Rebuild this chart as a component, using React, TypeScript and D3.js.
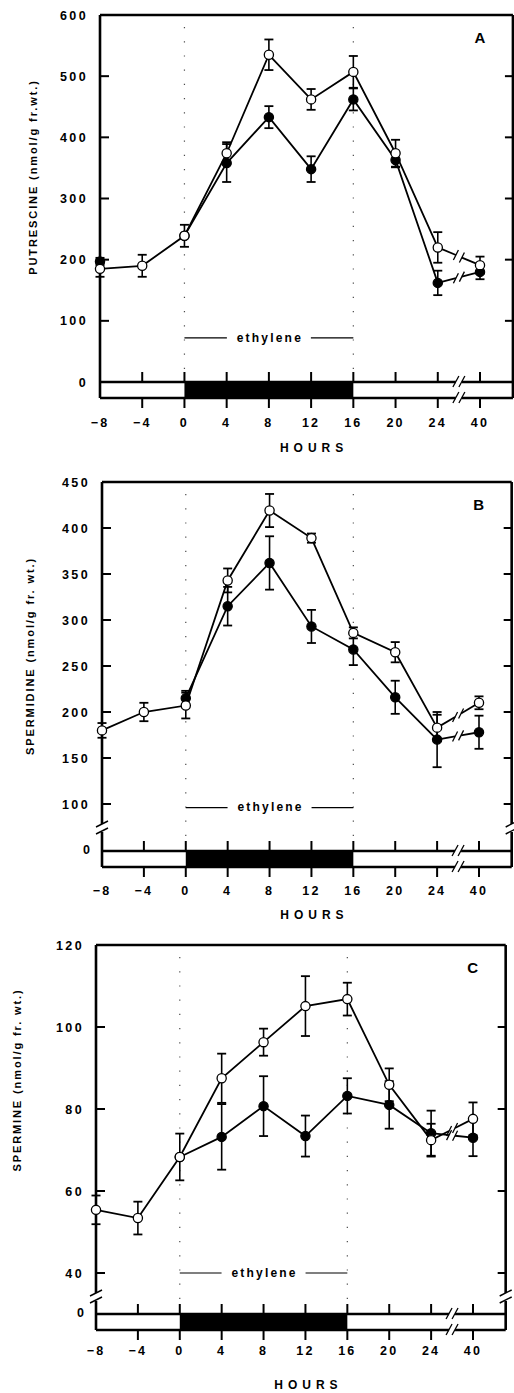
import React from 'react';
import * as d3 from 'd3';

// hours on the x axis (evenly spaced, with a break between 24 and 40)
const HOURS = [-8, -4, 0, 4, 8, 12, 16, 20, 24, 40];
const HOUR_LABELS = ['−8', '−4', '0', '4', '8', '12', '16', '20', '24', '40'];

// A: putrescine
const putOpen = [185, 190, 239, 374, 535, 462, 507, 374, 220, 191];
const putOpenErr = [13, 18, 18, 18, 25, 17, 26, 22, 25, 14];
const putFilled = [197, null, 239, 358, 433, 348, 462, 363, 162, 180];
const putFilledErr = [6, 0, 0, 31, 18, 21, 18, 12, 20, 12];
const putTicks = [0, 100, 200, 300, 400, 500, 600];

// B: spermidine
const spdOpen = [180, 200, 207, 343, 419, 389, 286, 265, 183, 210];
const spdOpenErr = [8, 10, 14, 13, 18, 5, 6, 11, 14, 7];
const spdFilled = [null, null, 215, 315, 362, 293, 268, 216, 170, 178];
const spdFilledErr = [0, 0, 8, 21, 29, 18, 17, 18, 30, 18];
const spdTicks = [100, 150, 200, 250, 300, 350, 400, 450];

// C: spermine
const spmOpen = [55.4, 53.4, 68.3, 87.5, 96.3, 105.1, 106.8, 85.9, 72.4, 77.6];
const spmOpenErr = [3.5, 4, 5.7, 6, 3.3, 7.3, 4, 4, 4, 4];
const spmFilled = [null, null, 68.3, 73.2, 80.7, 73.4, 83.2, 81, 74.1, 73];
const spmFilledErr = [0, 0, 0, 8, 7.3, 5, 4.3, 5.8, 5.5, 4.5];
const spmTicks = [40, 60, 80, 100, 120];

const FONT = '"Liberation Sans", Arial, sans-serif';

type Series = { values: (number | null)[]; errs: number[]; filled: boolean };

type PanelProps = {
  letter: string;
  yLabel: string;
  left: number;
  lastX: number;
  top: number;
  yDomain: [number, number];
  yRange: [number, number];
  zeroY: number;
  yTicks: number[];
  axisBreakY?: number;
  labelX: number;
  labelY: number;
  ethyleneY: number;
  tickLabelY: number;
  hoursY: number;
  series: Series[];
};

function Panel(p: PanelProps) {
  const x = d3.scalePoint<number>().domain(HOURS).range([p.left, p.lastX]);
  const right = p.lastX + 0.78 * x.step();
  const y = d3.scaleLinear().domain(p.yDomain).range(p.yRange);
  const barH = 16;
  const barBottom = p.zeroY + barH;
  const bx = (x(24)! + x(40)!) / 2;

  // vertical axis line with optional break
  const vAxis = (xx: number) => {
    if (p.axisBreakY == null) {
      return <line x1={xx} x2={xx} y1={p.top} y2={barBottom} stroke="#000" strokeWidth={2.6} />;
    }
    const b = p.axisBreakY;
    return (
      <g>
        <line x1={xx} x2={xx} y1={p.top} y2={b - 4} stroke="#000" strokeWidth={2.6} />
        <line x1={xx} x2={xx} y1={b + 4} y2={barBottom} stroke="#000" strokeWidth={2.6} />
        <line x1={xx - 6} x2={xx + 6} y1={b - 1} y2={b - 7} stroke="#000" strokeWidth={1.4} />
        <line x1={xx - 6} x2={xx + 6} y1={b + 6} y2={b} stroke="#000" strokeWidth={1.4} />
      </g>
    );
  };

  const line = d3
    .line<number | null>()
    .defined((d) => d != null)
    .x((_, i) => x(HOURS[i])!)
    .y((d) => y(d as number));

  const ethL = x(0)!;
  const ethR = x(16)!;
  const ethMid = (ethL + ethR) / 2;
  const ey = y(p.ethyleneY);

  return (
    <g fontFamily={FONT} fontWeight="bold">
      {/* dotted guides at 0 h and 16 h */}
      {[0, 16].map((h) => (
        <line key={h} x1={x(h)} x2={x(h)} y1={p.top + 12} y2={p.zeroY - 2}
          stroke="#000" strokeWidth={1.2} strokeDasharray="1.2 13" opacity={0.7} />
      ))}

      {/* frame */}
      <line x1={p.left} x2={right} y1={p.top} y2={p.top} stroke="#000" strokeWidth={2.6} />
      {vAxis(p.left)}
      {vAxis(right)}

      {/* y ticks & labels */}
      {p.yTicks.map((t) => (
        <g key={t}>
          {y(t) > p.top + 2 && (
            <>
              <line x1={p.left} x2={p.left + 9} y1={y(t)} y2={y(t)} stroke="#000" strokeWidth={2} />
              <line x1={right - 8} x2={right} y1={y(t)} y2={y(t)} stroke="#000" strokeWidth={2} />
            </>
          )}
          <text x={p.left - 12} y={y(t)} dy="0.36em" textAnchor="end" fontSize={12.5} letterSpacing={2.4}>
            {t}
          </text>
        </g>
      ))}
      {p.axisBreakY != null && (
        <text x={p.left - 12} y={p.zeroY - 2} dy="0.36em" textAnchor="end" fontSize={12.5}>0</text>
      )}

      {/* treatment bar */}
      <rect x={ethL} y={p.zeroY} width={ethR - ethL} height={barH} fill="#000" />
      <path
        d={`M${p.left},${p.zeroY}H${bx - 3}M${bx + 3},${p.zeroY}H${right}M${p.left},${barBottom}H${bx - 3}M${bx + 3},${barBottom}H${right}`}
        stroke="#000" strokeWidth={2.4} fill="none" />
      {[-3, 3].map((o) => (
        <g key={o}>
          <line x1={bx + o - 3} x2={bx + o + 3} y1={p.zeroY + 5} y2={p.zeroY - 6} stroke="#000" strokeWidth={1.3} />
          <line x1={bx + o - 3} x2={bx + o + 3} y1={barBottom + 5} y2={barBottom - 6} stroke="#000" strokeWidth={1.3} />
        </g>
      ))}

      {/* x ticks */}
      {HOURS.map((h, i) => (
        <g key={h}>
          {i > 0 && (
            <>
              <line x1={x(h)} x2={x(h)} y1={p.zeroY - 10} y2={p.zeroY} stroke="#000" strokeWidth={2} />
              <line x1={x(h)} x2={x(h)} y1={barBottom} y2={barBottom + 10} stroke="#000" strokeWidth={2} />
            </>
          )}
          <text x={x(h)} y={p.tickLabelY} dy="0.36em" textAnchor="middle" fontSize={12.5} letterSpacing={2.2}>
            {HOUR_LABELS[i]}
          </text>
        </g>
      ))}
      <text x={x(12)! + 3} y={p.hoursY} dy="0.36em" textAnchor="middle" fontSize={12} letterSpacing={5}>
        HOURS
      </text>

      {/* ethylene marker */}
      <line x1={ethL} x2={ethMid - 42} y1={ey} y2={ey} stroke="#000" strokeWidth={1.2} />
      <line x1={ethMid + 42} x2={ethR} y1={ey} y2={ey} stroke="#000" strokeWidth={1.2} />
      <text x={ethMid + 1} y={ey} dy="0.3em" textAnchor="middle" fontSize={12} letterSpacing={2.2}>
        ethylene
      </text>

      {/* panel letter */}
      <text x={right - 33} y={p.top + 23} dy="0.36em" textAnchor="middle" fontSize={15}>
        {p.letter}
      </text>

      {/* y label */}
      <text transform={`translate(${p.labelX},${p.labelY}) rotate(-90)`} dy="0.36em"
        textAnchor="middle" fontSize={11} letterSpacing={1.9}>
        {p.yLabel}
      </text>

      {/* series */}
      {p.series.map((s, si) => {
        const v = s.values;
        const main = v.slice(0, 9);
        const x24 = x(24)!;
        const x40 = x(40)!;
        const y24 = y(v[8] as number);
        const y40 = y(v[9] as number);
        const at = (xx: number) => y24 + ((xx - x24) / (x40 - x24)) * (y40 - y24);
        return (
          <g key={si}>
            <path d={line(main) || ''} fill="none" stroke="#000" strokeWidth={1.8} />
            <line x1={x24} y1={y24} x2={bx - 3} y2={at(bx - 3)} stroke="#000" strokeWidth={1.8} />
            <line x1={bx + 3} y1={at(bx + 3)} x2={x40} y2={y40} stroke="#000" strokeWidth={1.8} />
            {[-3, 3].map((o) => (
              <line key={o} x1={bx + o - 2.5} x2={bx + o + 2.5} y1={at(bx + o) + 5} y2={at(bx + o) - 5}
                stroke="#000" strokeWidth={1.3} />
            ))}
          </g>
        );
      })}
      {p.series.map((s, si) =>
        s.values.map((d, i) => {
          if (d == null) return null;
          const cx = x(HOURS[i])!;
          const e = s.errs[i];
          return (
            <g key={`${si}-${i}`}>
              {e > 0 && (
                <>
                  <line x1={cx} x2={cx} y1={y(d + e)} y2={y(d - e)} stroke="#000" strokeWidth={1.6} />
                  <line x1={cx - 4.5} x2={cx + 4.5} y1={y(d + e)} y2={y(d + e)} stroke="#000" strokeWidth={1.8} />
                  <line x1={cx - 4.5} x2={cx + 4.5} y1={y(d - e)} y2={y(d - e)} stroke="#000" strokeWidth={1.8} />
                </>
              )}
              <circle cx={cx} cy={y(d)} r={4.6} fill={s.filled ? '#000' : '#fff'} stroke="#000" strokeWidth={1.3} />
            </g>
          );
        })
      )}
    </g>
  );
}

export default function App() {
  return (
    <svg width={514} height={1393} style={{ position: 'absolute', left: 0, top: 0, background: '#fff' }}>
      <rect width={514} height={1393} fill="#fff" />
      <Panel
        letter="A"
        yLabel="PUTRESCINE (nmol/g fr.wt.)"
        left={100}
        lastX={480}
        top={15}
        yDomain={[0, 600]}
        yRange={[382, 15]}
        zeroY={382}
        yTicks={putTicks}
        labelX={33}
        labelY={177}
        ethyleneY={72}
        tickLabelY={422}
        hoursY={448}
        series={[
          { values: putFilled, errs: putFilledErr, filled: true },
          { values: putOpen, errs: putOpenErr, filled: false },
        ]}
      />
      <Panel
        letter="B"
        yLabel="SPERMIDINE (nmol/g fr. wt.)"
        left={102}
        lastX={479}
        top={482}
        yDomain={[100, 450]}
        yRange={[804, 482]}
        zeroY={851}
        yTicks={spdTicks}
        axisBreakY={828}
        labelX={30}
        labelY={656}
        ethyleneY={96}
        tickLabelY={890}
        hoursY={915}
        series={[
          { values: spdFilled, errs: spdFilledErr, filled: true },
          { values: spdOpen, errs: spdOpenErr, filled: false },
        ]}
      />
      <Panel
        letter="C"
        yLabel="SPERMINE (nmol/g fr. wt.)"
        left={96}
        lastX={473}
        top={945}
        yDomain={[40, 120]}
        yRange={[1273, 945]}
        zeroY={1314}
        yTicks={spmTicks}
        axisBreakY={1297}
        labelX={17}
        labelY={1080}
        ethyleneY={40}
        tickLabelY={1350}
        hoursY={1385}
        series={[
          { values: spmFilled, errs: spmFilledErr, filled: true },
          { values: spmOpen, errs: spmOpenErr, filled: false },
        ]}
      />
    </svg>
  );
}
